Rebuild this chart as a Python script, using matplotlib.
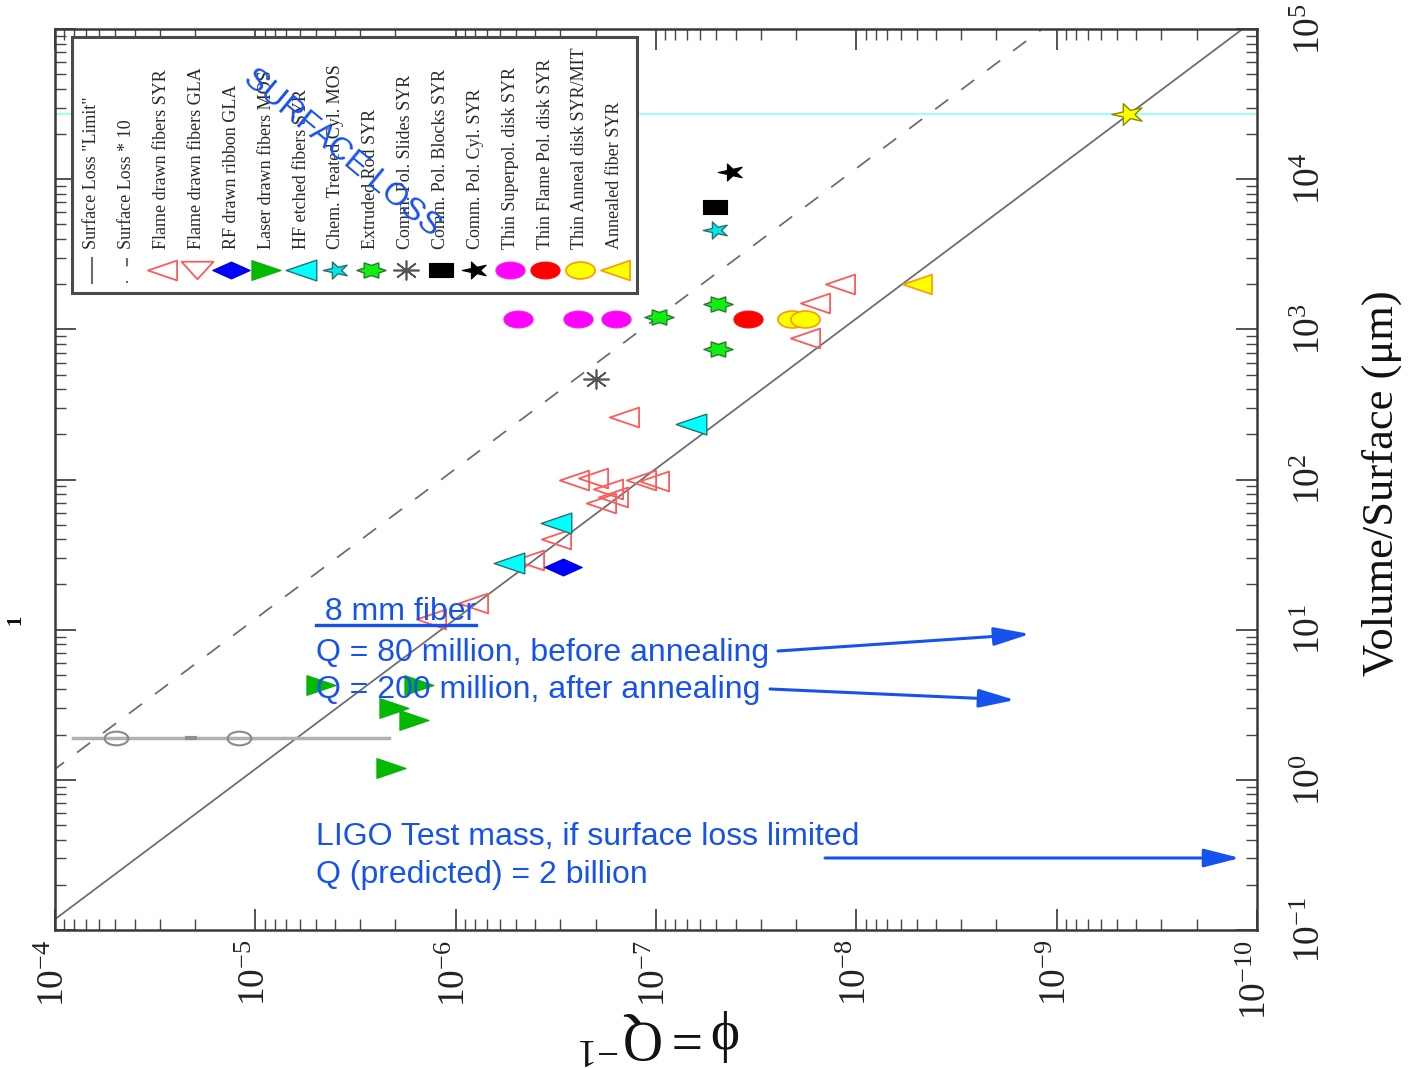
import numpy as np
import matplotlib
matplotlib.use("Agg")
import matplotlib.pyplot as plt
from matplotlib.path import Path
from matplotlib.markers import MarkerStyle
from matplotlib.transforms import Affine2D
from matplotlib.ticker import FixedLocator, LogLocator, NullFormatter
from matplotlib.patches import Rectangle

plt.rcParams["font.family"] = ["Liberation Serif", "DejaVu Serif"]
plt.rcParams["mathtext.fontset"] = "custom"
plt.rcParams["mathtext.rm"] = "Liberation Serif"
plt.rcParams["mathtext.it"] = "Liberation Serif"
plt.rcParams["mathtext.bf"] = "Liberation Serif:bold"
plt.rcParams["mathtext.fallback"] = "stix"

# ---------------- data (phi = 1/Q, V/S in micrometres) ----------------
surface_loss_const = 1.18e-5          # phi * (V/S)  [um]
surface_loss_factor = 10
line_vs = [0.03, 3e5]

flame_syr_phi = [1.2e-8, 1.6e-8, 1.8e-8, 1.45e-7, 2.57e-7, 2.07e-7, 1.74e-7, 1.64e-7,
                 1.88e-7, 1.19e-7, 1.02e-7, 3.16e-7, 4.3e-7, 8.2e-7, 1.33e-6]
flame_syr_vs = [2000, 1500, 870, 260, 100, 103, 87, 76, 70, 100, 98, 40, 29, 15, 11.8]
flame_gla_phi = []
flame_gla_vs = []
rf_gla_phi = [2.9e-7]
rf_gla_vs = [26]
laser_mos_phi = [4.7e-6, 1.53e-6, 2.04e-6, 1.62e-6, 2.1e-6]
laser_mos_vs = [4.3, 4.3, 3.0, 2.5, 1.2]
hf_syr_phi = [6.7e-8, 3.16e-7, 5.4e-7]
hf_syr_vs = [236, 51, 28]
chem_mos_phi = [5.0e-8]
chem_mos_vs = [4570]
extruded_phi = [9.7e-8, 4.9e-8, 4.9e-8]
extruded_vs = [1200, 1470, 740]
slides_phi = [2.0e-7]
slides_vs = [470]
blocks_phi = [5.1e-8]
blocks_vs = [6500]
cyl_phi = [4.2e-8]
cyl_vs = [11100]
superpol_phi = [4.9e-7, 2.45e-7, 1.58e-7]
superpol_vs = [1180, 1180, 1180]
flamepol_phi = [3.47e-8]
flamepol_vs = [1180]
anneal_disk_phi = [2.1e-8, 1.8e-8]
anneal_disk_vs = [1180, 1180]
annealed_fiber_phi = [5.0e-9]
annealed_fiber_vs = [2000]
ligo_phi = [4.4e-10]
ligo_vs = [2.71e4]
meas_range_phi = [8.1e-5, 2.16e-6]
meas_vs = 1.9
meas_points_phi = [4.95e-5, 1.2e-5]
meas_mid_phi = [2.1e-5]

legend_labels = ['Surface Loss "Limit"', 'Surface Loss * 10', 'Flame drawn fibers SYR',
                 'Flame drawn fibers GLA', 'RF drawn ribbon GLA', 'Laser drawn fibers MOS',
                 'HF etched fibers SYR', 'Chem. Treated Cyl. MOS', 'Extruded Rod SYR',
                 'Comm. Pol. Slides SYR', 'Comm. Pol. Blocks SYR', 'Comm. Pol. Cyl. SYR',
                 'Thin Superpol. disk SYR', 'Thin Flame Pol. disk SYR',
                 'Thin Anneal disk SYR/MIT', 'Annealed fiber SYR']

x_ticks = [1e-4, 1e-5, 1e-6, 1e-7, 1e-8, 1e-9, 1e-10]
x_ticklabels = [r"$10^{-4}$", r"$10^{-5}$", r"$10^{-6}$", r"$10^{-7}$", r"$10^{-8}$",
                r"$10^{-9}$", r"$10^{-10}$"]
y_ticks = [1e-1, 1e0, 1e1, 1e2, 1e3, 1e4, 1e5]
y_ticklabels = [r"$10^{-1}$", r"$10^{0}$", r"$10^{1}$", r"$10^{2}$", r"$10^{3}$",
                r"$10^{4}$", r"$10^{5}$"]

# ---------------- marker shapes (squashed vertically like the original) ----------------
def squash(m, ky=0.65, rot=0.0):
    if isinstance(m, Path):
        p = m
    else:
        ms = MarkerStyle(m)
        p = ms.get_path().transformed(ms.get_transform())
    return p.transformed(Affine2D().rotate_deg(rot).scale(1.0, ky))

TRI_L = squash("<", 0.68)
TRI_R = squash(">", 0.68)
TRI_D = squash("v", 0.55)
DIAM = Path([(-1, 0), (0, 0.45), (1, 0), (0, -0.45), (-1, 0)],
            [Path.MOVETO, Path.LINETO, Path.LINETO, Path.LINETO, Path.CLOSEPOLY])
ELL = squash(Path.unit_circle(), 0.58)
HEX = squash(Path.unit_regular_star(6, 0.577), 0.6, 90)
STAR5 = squash(Path.unit_regular_star(5, 0.38), 0.68, 90)
SQR = squash(Path.unit_rectangle().transformed(Affine2D().translate(-0.5, -0.5)), 0.58)
AST = squash((8, 2, 0), 0.75)

styles = [
    None, None,
    dict(marker=TRI_L, ms=21, mfc="none", mec="#ff5a5a", mew=1.3),
    dict(marker=TRI_D, ms=23, mfc="none", mec="#ff5a5a", mew=1.3),
    dict(marker=DIAM, ms=27, mfc="#0000ff", mec="#0000cc", mew=0.8),
    dict(marker=TRI_R, ms=21, mfc="#00bb00", mec="#11aa11", mew=0.8),
    dict(marker=TRI_L, ms=22, mfc="#00ffff", mec="#2a6f6f", mew=1.0),
    dict(marker=STAR5, ms=19, mfc="#00e8e8", mec="#2a6f6f", mew=1.0),
    dict(marker=HEX, ms=21, mfc="#11ee11", mec="#2a7a2a", mew=1.0),
    dict(marker=AST, ms=18, mfc="none", mec="#555555", mew=1.2),
    dict(marker=SQR, ms=17, mfc="#000000", mec="#000000", mew=0.8),
    dict(marker=STAR5, ms=19, mfc="#000000", mec="#000000", mew=0.8),
    dict(marker=ELL, ms=21, mfc="#ff00ff", mec="#f020f0", mew=0.8),
    dict(marker=ELL, ms=21, mfc="#ff0000", mec="#ee1111", mew=0.8),
    dict(marker=ELL, ms=21, mfc="#ffff00", mec="#ff9900", mew=1.2),
    dict(marker=TRI_L, ms=21, mfc="#ffff00", mec="#ff9900", mew=1.2),
]
series = [None, None,
          (flame_syr_phi, flame_syr_vs), (flame_gla_phi, flame_gla_vs),
          (rf_gla_phi, rf_gla_vs), (laser_mos_phi, laser_mos_vs),
          (hf_syr_phi, hf_syr_vs), (chem_mos_phi, chem_mos_vs),
          (extruded_phi, extruded_vs), (slides_phi, slides_vs),
          (blocks_phi, blocks_vs), (cyl_phi, cyl_vs),
          (superpol_phi, superpol_vs), (flamepol_phi, flamepol_vs),
          (anneal_disk_phi, anneal_disk_vs), (annealed_fiber_phi, annealed_fiber_vs)]

# ---------------- figure ----------------
W, H = 1416, 1068
fig = plt.figure(figsize=(W / 100, H / 100), dpi=100)
ax = fig.add_axes([55 / W, 1 - 930 / H, 1202 / W, 901 / H])
ax.set_xscale("log")
ax.set_yscale("log")
ax.set_xlim(1e-4, 1e-10)
ax.set_ylim(1e-1, 1e5)

gray = "#6e6e6e"
vs_arr = np.array(line_vs)
ax.plot(surface_loss_const / vs_arr, vs_arr, color=gray, lw=1.3, zorder=1.5)
ax.plot(surface_loss_const * surface_loss_factor / vs_arr, vs_arr, color=gray, lw=1.3,
        dashes=(9, 9), zorder=1.5)
ax.axhline(ligo_vs[0], color="#80ffff", lw=1.1, zorder=1.4)

# measurement bar
ax.plot(meas_range_phi, [meas_vs, meas_vs], color="#b0b0b0", lw=2.5, zorder=1.6)
ax.plot(meas_points_phi, [meas_vs] * len(meas_points_phi), linestyle="none",
        marker=ELL, ms=17, mfc="none", mec="#8a8a8a", mew=1.5, zorder=1.7)
ax.plot(meas_mid_phi, [meas_vs], linestyle="none", marker="_", ms=9, mec="#909090",
        mew=3, zorder=1.7)

for st, s in zip(styles, series):
    if st is None or len(s[0]) == 0:
        continue
    ax.plot(s[0], s[1], linestyle="none", zorder=3, **st)

ax.plot(ligo_phi, ligo_vs, linestyle="none", marker=STAR5, ms=24, mfc="#ffff00",
        mec="#888800", mew=1.0, zorder=3)

# axes cosmetics
for sp in ax.spines.values():
    sp.set_color("#3a3a3a")
    sp.set_linewidth(1.8)
ax.xaxis.set_major_locator(FixedLocator(x_ticks))
ax.yaxis.set_major_locator(FixedLocator(y_ticks))
ax.xaxis.set_minor_locator(LogLocator(base=10, subs=np.arange(2, 10), numticks=100))
ax.yaxis.set_minor_locator(LogLocator(base=10, subs=np.arange(2, 10), numticks=100))
ax.xaxis.set_minor_formatter(NullFormatter())
ax.yaxis.set_minor_formatter(NullFormatter())
ax.set_xticklabels(x_ticklabels, rotation=90, ha="center", va="top", fontsize=27,
                   color="#222222")
ax.set_yticklabels(y_ticklabels, rotation=90, ha="left", va="center", fontsize=27,
                   color="#222222")
ax.tick_params(which="both", direction="in", top=True, right=True, bottom=True, left=True,
               labelleft=False, labelright=True, labelbottom=True, labeltop=False,
               color="#444444")
ax.tick_params(which="major", length=15, width=1.3)
ax.tick_params(which="minor", length=8, width=1.0)
ax.tick_params(axis="x", pad=7)
ax.tick_params(axis="y", pad=26)

fig.text(1382 / W, 1 - 483 / H, "Volume/Surface (\u03bcm)", rotation=90, ha="center",
         va="center", fontsize=32, color="#111111")
fig.text(660 / W, 1 - 1036 / H, r"$\phi = Q^{-1}$", rotation=180, ha="center",
         va="center", fontsize=40, color="#111111")
fig.text(15 / W, 1 - 620 / H, "1", rotation=90, ha="center", va="center", fontsize=15,
         fontweight="bold", color="#111111")

# ---------------- overlay (legend + annotations) in pixel coordinates ----------------
ov = fig.add_axes([0, 0, 1, 1])
ov.set_xlim(0, W)
ov.set_ylim(H, 0)
ov.axis("off")
ov.patch.set_visible(False)

ov.add_patch(Rectangle((72, 37), 565, 256, facecolor="white", edgecolor="#4a4a4a",
                       lw=2.2, zorder=1))
x0, dx = 92, 34.85
for i, lab in enumerate(legend_labels):
    xi = x0 + i * dx
    ov.text(xi, 249, lab, rotation=90, ha="center", va="bottom", fontsize=13,
            color="#2a2a2a", zorder=3)
    if i == 0:
        ov.plot([xi, xi], [258, 283], color=gray, lw=1.5, zorder=2)
    elif i == 1:
        ov.plot([xi, xi], [258, 283], color=gray, lw=1.5, dashes=(4, 7), zorder=2)
    else:
        ov.plot([xi], [270], linestyle="none", zorder=2, **styles[i])

blue = "#1652ee"
sans = ["Liberation Sans", "DejaVu Sans"]
ov.text(342, 153, "SURFACE LOSS", rotation=-39.5, rotation_mode="anchor", ha="center",
        va="center", fontsize=23, color=blue, family=sans, zorder=5)
ov.text(316, 620, " 8 mm fiber", ha="left", va="baseline", fontsize=23, color=blue,
        family=sans, zorder=5)
ov.plot([316, 476], [625, 625], color=blue, lw=2.4, zorder=5)
ov.text(316, 661, "Q = 80 million, before annealing", ha="left", va="baseline",
        fontsize=23, color=blue, family=sans, zorder=5)
ov.text(316, 698, "Q = 200 million, after annealing", ha="left", va="baseline",
        fontsize=23, color=blue, family=sans, zorder=5)
ov.text(316, 845, "LIGO Test mass, if surface loss limited", ha="left", va="baseline",
        fontsize=23, color=blue, family=sans, zorder=5)
ov.text(316, 883, "Q (predicted) = 2 billion", ha="left", va="baseline", fontsize=23,
        color=blue, family=sans, zorder=5)

aprops = dict(arrowstyle="-|>,head_length=1.1,head_width=0.28", color=blue, lw=2.2,
              mutation_scale=20, shrinkA=0, shrinkB=0)
ov.annotate("", xy=(1030, 634), xytext=(778, 651), arrowprops=aprops, zorder=5)
ov.annotate("", xy=(1015, 700), xytext=(770, 689), arrowprops=aprops, zorder=5)
ov.annotate("", xy=(1240, 858), xytext=(825, 858), arrowprops=aprops, zorder=5)

fig.savefig("out.png", dpi=100)
